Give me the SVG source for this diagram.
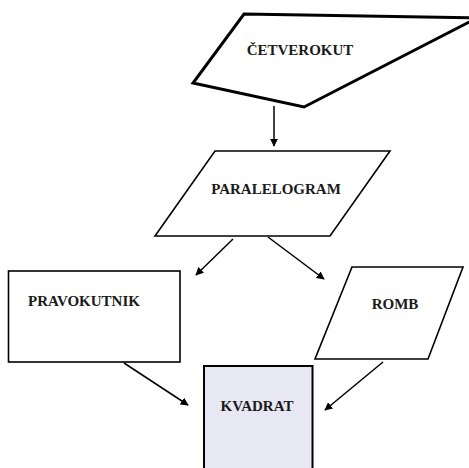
<svg xmlns="http://www.w3.org/2000/svg" width="469" height="468" viewBox="0 0 469 468">
  <defs>
    <marker id="arrow" viewBox="0 0 10 10" refX="9" refY="5" markerWidth="8" markerHeight="8" markerUnits="userSpaceOnUse" orient="auto">
      <path d="M0,0 L10,5 L0,10 Z" fill="#000"/>
    </marker>
  </defs>
  <style>
    .shape { fill: #fff; stroke: #000; stroke-width: 1.6; stroke-linejoin: miter; }
    .label { font-family: "Liberation Serif", "Times New Roman", "DejaVu Serif", serif; font-weight: bold; font-size: 15px; fill: #1a1a1a; }
    .edge { stroke: #000; stroke-width: 1.5; fill: none; marker-end: url(#arrow); }
  </style>
  <rect width="469" height="468" fill="#fff"/>

  <g id="connectors">
    <line class="edge" x1="274" y1="106" x2="274" y2="146"/>
    <line class="edge" x1="233" y1="239" x2="196" y2="275"/>
    <line class="edge" x1="268" y1="237" x2="324" y2="279"/>
    <line class="edge" x1="124" y1="363" x2="188" y2="405"/>
    <line class="edge" x1="383" y1="362" x2="325" y2="410"/>
  </g>

  <g id="cetverokut">
    <polygon class="shape" style="stroke-width:3" points="244,14 477,18 304,107 193,83"/>
    <text class="label" x="300" y="55" text-anchor="middle">ČETVEROKUT</text>
  </g>

  <g id="paralelogram">
    <polygon class="shape" points="215,151 390,151 330,236 155,236"/>
    <text class="label" x="276" y="194" text-anchor="middle">PARALELOGRAM</text>
  </g>

  <g id="pravokutnik">
    <rect class="shape" x="8.5" y="271" width="171.5" height="91"/>
    <text class="label" x="28" y="306">PRAVOKUTNIK</text>
  </g>

  <g id="romb">
    <polygon class="shape" points="352,267 463,267 428,359 315,359"/>
    <text class="label" x="395" y="309" text-anchor="middle">ROMB</text>
  </g>

  <g id="kvadrat">
    <rect class="shape" style="fill:#e8e8f4;stroke-width:2" x="204" y="366" width="108.5" height="110"/>
    <text class="label" x="257" y="411" text-anchor="middle">KVADRAT</text>
  </g>
</svg>
